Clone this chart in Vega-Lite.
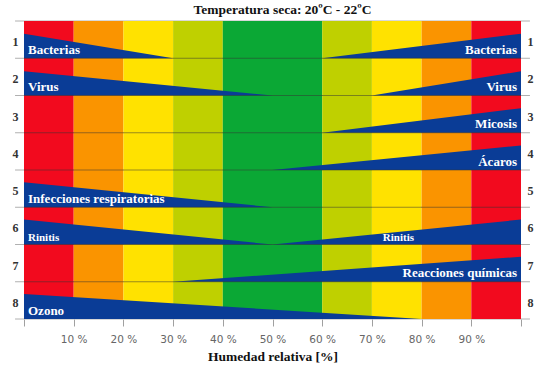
{
  "$schema": "https://vega.github.io/schema/vega-lite/v6.json",
  "width": 497,
  "height": 298,
  "autosize": "none",
  "padding": {"left": 24, "top": 21, "right": 30, "bottom": 54},
  "background": "white",
  "title": {"text": "Temperatura seca: 20ºC - 22ºC", "font": "Liberation Serif", "fontSize": 13.5, "fontWeight": "bold", "color": "#111", "offset": 4, "dx": 10},
  "config": {"view": {"stroke": null}},
  "datasets": {
    "rows": [{"r": 0}, {"r": 1}, {"r": 2}, {"r": 3}, {"r": 4}, {"r": 5}, {"r": 6}, {"r": 7}, {"r": 8}],
    "inner": [{"r": 1}, {"r": 2}, {"r": 3}, {"r": 4}, {"r": 5}, {"r": 6}, {"r": 7}],
    "bands": [
      {"x0": 0, "x1": 10, "zone": "rojo"},
      {"x0": 10, "x1": 20, "zone": "naranja"},
      {"x0": 20, "x1": 30, "zone": "amarillo"},
      {"x0": 30, "x1": 40, "zone": "lima"},
      {"x0": 40, "x1": 60, "zone": "verde"},
      {"x0": 60, "x1": 70, "zone": "lima"},
      {"x0": 70, "x1": 80, "zone": "amarillo"},
      {"x0": 80, "x1": 90, "zone": "naranja"},
      {"x0": 90, "x1": 100, "zone": "rojo"}
    ],
    "tri": [
      {"t": "1L", "r": 1, "x": 0, "y": 0.34}, {"t": "1L", "r": 1, "x": 30, "y": 1},
      {"t": "1R", "r": 1, "x": 60, "y": 1}, {"t": "1R", "r": 1, "x": 100, "y": 0.34},
      {"t": "2L", "r": 2, "x": 0, "y": 1.35}, {"t": "2L", "r": 2, "x": 50, "y": 2},
      {"t": "2R", "r": 2, "x": 70, "y": 2}, {"t": "2R", "r": 2, "x": 100, "y": 1.35},
      {"t": "3R", "r": 3, "x": 60, "y": 3}, {"t": "3R", "r": 3, "x": 100, "y": 2.34},
      {"t": "4R", "r": 4, "x": 50, "y": 4}, {"t": "4R", "r": 4, "x": 100, "y": 3.34},
      {"t": "5L", "r": 5, "x": 0, "y": 4.33}, {"t": "5L", "r": 5, "x": 50, "y": 5},
      {"t": "6L", "r": 6, "x": 0, "y": 5.33}, {"t": "6L", "r": 6, "x": 50, "y": 6},
      {"t": "6R", "r": 6, "x": 50, "y": 6}, {"t": "6R", "r": 6, "x": 100, "y": 5.33},
      {"t": "7R", "r": 7, "x": 30, "y": 7}, {"t": "7R", "r": 7, "x": 100, "y": 6.33},
      {"t": "8L", "r": 8, "x": 0, "y": 7.33}, {"t": "8L", "r": 8, "x": 80, "y": 8}
    ],
    "labels": [
      {"label": "Bacterias", "r": 1, "at": 0, "side": "L"},
      {"label": "Bacterias", "r": 1, "at": 100, "side": "R"},
      {"label": "Virus", "r": 2, "at": 0, "side": "L"},
      {"label": "Virus", "r": 2, "at": 100, "side": "R"},
      {"label": "Micosis", "r": 3, "at": 100, "side": "R"},
      {"label": "Ácaros", "r": 4, "at": 100, "side": "R"},
      {"label": "Infecciones respiratorias", "r": 5, "at": 0, "side": "L"},
      {"label": "Rinitis", "r": 6, "at": 0, "side": "S"},
      {"label": "Rinitis", "r": 6, "at": 71.4, "side": "S"},
      {"label": "Reacciones químicas", "r": 7, "at": 100, "side": "R"},
      {"label": "Ozono", "r": 8, "at": 0, "side": "L"}
    ]
  },
  "layer": [
    {
      "data": {"name": "rows"},
      "mark": {"type": "rule", "color": "#b0b0b0", "strokeWidth": 1},
      "encoding": {
        "y": {"field": "r", "type": "quantitative", "scale": {"domain": [0, 8], "reverse": true, "nice": false, "zero": false},
          "axis": {"orient": "left", "values": [0.5, 1.5, 2.5, 3.5, 4.5, 5.5, 6.5, 7.5], "labelExpr": "'' + ceil(datum.value)", "ticks": false, "tickSize": 0, "domain": false, "grid": false, "title": null, "labelFont": "Liberation Serif", "labelFontWeight": "bold", "labelFontSize": 12, "labelColor": "#333", "labelPadding": 6, "labelOffset": 2}},
        "x": {"datum": -1.8, "type": "quantitative", "scale": {"domain": [0, 100], "nice": false, "zero": false}},
        "x2": {"datum": 101.8}
      }
    },
    {
      "data": {"name": "bands"},
      "mark": {"type": "rect"},
      "encoding": {
        "x": {"field": "x0", "type": "quantitative", "scale": {"domain": [0, 100], "nice": false, "zero": false},
          "axis": {"orient": "bottom", "values": [0, 10, 20, 30, 40, 50, 60, 70, 80, 90, 100], "labelExpr": "datum.value == 0 || datum.value == 100 ? '' : datum.value + ' %'", "tickSize": 7, "tickColor": "#a0a0a0", "domain": false, "grid": false, "labelFont": "DejaVu Sans", "labelFontSize": 10.5, "labelColor": "#666666", "labelPadding": 8, "title": "Humedad relativa [%]", "titleFont": "Liberation Serif", "titleFontWeight": "bold", "titleFontSize": 13.5, "titleColor": "#111", "titlePadding": 5}},
        "x2": {"field": "x1"},
        "y": {"datum": 0, "type": "quantitative", "scale": {"domain": [0, 8], "reverse": true, "nice": false, "zero": false}, "axis": null},
        "y2": {"datum": 8},
        "color": {"field": "zone", "type": "nominal", "legend": null,
          "scale": {"domain": ["rojo", "naranja", "amarillo", "lima", "verde"], "range": ["#F20A1E", "#FA9400", "#FFE200", "#BFD000", "#0BA835"]}}
      }
    },
    {
      "data": {"name": "tri"},
      "mark": {"type": "area", "color": "#0A3C96", "interpolate": "linear"},
      "encoding": {
        "x": {"field": "x", "type": "quantitative"},
        "y": {"field": "y", "type": "quantitative", "axis": null},
        "y2": {"field": "r"},
        "detail": {"field": "t"}
      }
    },
    {
      "data": {"name": "inner"},
      "mark": {"type": "rule", "color": "#333333", "opacity": 0.5, "strokeWidth": 1},
      "encoding": {
        "y": {"field": "r", "type": "quantitative",
          "axis": {"orient": "right", "values": [0.5, 1.5, 2.5, 3.5, 4.5, 5.5, 6.5, 7.5], "labelExpr": "'' + ceil(datum.value)", "ticks": false, "tickSize": 0, "domain": false, "grid": false, "title": null, "labelFont": "Liberation Serif", "labelFontWeight": "bold", "labelFontSize": 12, "labelColor": "#333", "labelPadding": 6, "labelOffset": 2}},
        "x": {"datum": 0, "type": "quantitative"},
        "x2": {"datum": 100}
      }
    },
    {
      "data": {"name": "labels"},
      "transform": [{"filter": "datum.side == 'L'"}],
      "mark": {"type": "text", "align": "left", "baseline": "middle", "dx": 4, "dy": -8.5, "font": "Liberation Serif", "fontWeight": "bold", "fontSize": 13, "color": "white"},
      "encoding": {
        "x": {"field": "at", "type": "quantitative"},
        "y": {"field": "r", "type": "quantitative", "axis": null},
        "text": {"field": "label"}
      }
    },
    {
      "data": {"name": "labels"},
      "transform": [{"filter": "datum.side == 'R'"}],
      "mark": {"type": "text", "align": "right", "baseline": "middle", "dx": -4, "dy": -8.5, "font": "Liberation Serif", "fontWeight": "bold", "fontSize": 13, "color": "white"},
      "encoding": {
        "x": {"field": "at", "type": "quantitative"},
        "y": {"field": "r", "type": "quantitative", "axis": null},
        "text": {"field": "label"}
      }
    },
    {
      "data": {"name": "labels"},
      "transform": [{"filter": "datum.side == 'S'"}],
      "mark": {"type": "text", "align": "left", "baseline": "middle", "dx": 4, "dy": -6.5, "font": "Liberation Serif", "fontWeight": "bold", "fontSize": 11, "color": "white"},
      "encoding": {
        "x": {"field": "at", "type": "quantitative"},
        "y": {"field": "r", "type": "quantitative", "axis": null},
        "text": {"field": "label"}
      }
    }
  ],
  "resolve": {"axis": {"y": "independent"}}
}
